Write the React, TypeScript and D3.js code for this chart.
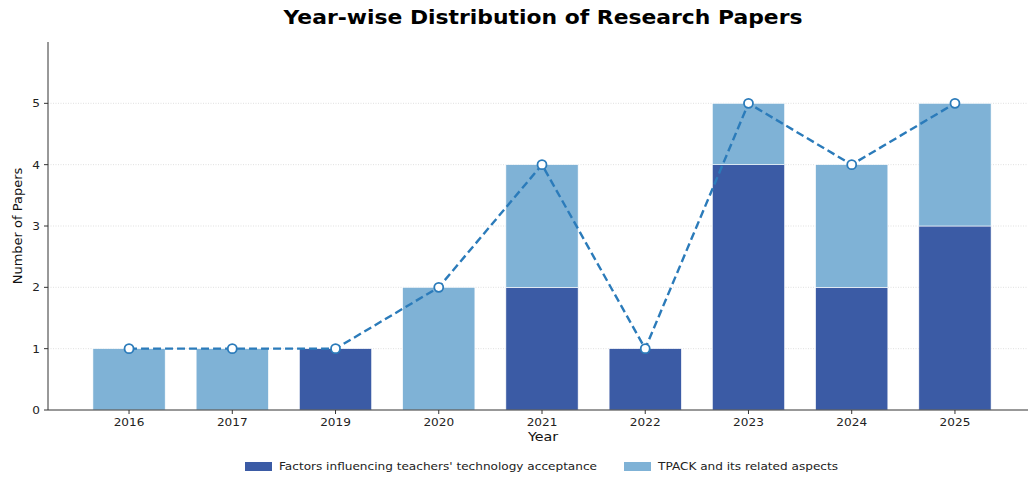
import * as d3 from "d3";

const years = ["2016", "2017", "2019", "2020", "2021", "2022", "2023", "2024", "2025"];
const factors = [0, 0, 1, 0, 2, 1, 4, 2, 3];
const tpack = [1, 1, 0, 2, 2, 0, 1, 2, 2];
const yTicks = [0, 1, 2, 3, 4, 5];
const seriesNames = ["Factors influencing teachers' technology acceptance", "TPACK and its related aspects"];
const seriesColors = ["#3b5ba5", "#7fb2d6"];

const width = 1028;
const height = 477;
const marginLeft = 48;
const marginTop = 42;
const plotBottom = 410;
const font = "DejaVu Sans, sans-serif";
// the reference looks stretched sideways a little
const sx = 1.1;

const Stretch = ({ x, y, children }: { x: number; y: number; children: any }) => (
  <g transform={`translate(${x},${y}) scale(${sx},1)`}>{children}</g>
);

export default function App() {
  const x = d3.scaleLinear().domain([-0.785, 8.785]).range([marginLeft, 1036]);
  const y = d3.scaleLinear().domain([0, 6]).range([plotBottom, marginTop]);
  const step = x(1) - x(0);
  const barW = step * 0.7;
  const totals = years.map((_, i) => factors[i] + tpack[i]);

  const line = d3
    .line<number>()
    .x((_, i) => x(i))
    .y((d) => y(d));

  return (
    <svg width={width} height={height} style={{ position: "absolute", left: 0, top: 0 }} fontFamily={font}>
      <rect width={width} height={height} fill="#fff" />
      <text x={543} y={24} textAnchor="middle" fontSize={19} fontWeight="bold" textLength={519} lengthAdjust="spacingAndGlyphs">
        Year-wise Distribution of Research Papers
      </text>

      {/* grid */}
      {yTicks.slice(1).map((t) => (
        <line key={t} x1={marginLeft} x2={width} y1={y(t)} y2={y(t)} stroke="#ccc" strokeWidth={0.6} strokeDasharray="1,1.5" />
      ))}

      {/* bars */}
      {years.map((yr, i) => (
        <g key={yr}>
          {factors[i] > 0 && (
            <rect x={x(i) - barW / 2} width={barW} y={y(factors[i])} height={y(0) - y(factors[i])} fill={seriesColors[0]} stroke="#fff" strokeWidth={0.6} />
          )}
          {tpack[i] > 0 && (
            <rect x={x(i) - barW / 2} width={barW} y={y(factors[i] + tpack[i])} height={y(factors[i]) - y(factors[i] + tpack[i])} fill={seriesColors[1]} stroke="#fff" strokeWidth={0.6} />
          )}
        </g>
      ))}

      {/* axes */}
      <line x1={marginLeft} x2={marginLeft} y1={marginTop} y2={plotBottom} stroke="#333" strokeWidth={1} />
      <line x1={marginLeft} x2={width} y1={plotBottom} y2={plotBottom} stroke="#333" strokeWidth={1} />
      {yTicks.map((t) => (
        <g key={t}>
          <line x1={marginLeft - 4} x2={marginLeft} y1={y(t)} y2={y(t)} stroke="#333" />
          <Stretch x={marginLeft - 8} y={y(t)}>
            <text dy="0.35em" textAnchor="end" fontSize={11} fill="#222">
              {t}
            </text>
          </Stretch>
        </g>
      ))}
      {years.map((yr, i) => (
        <g key={yr}>
          <line x1={x(i)} x2={x(i)} y1={plotBottom} y2={plotBottom + 4} stroke="#333" />
          <Stretch x={x(i)} y={plotBottom + 16}>
            <text textAnchor="middle" fontSize={11} fill="#222">
              {yr}
            </text>
          </Stretch>
        </g>
      ))}
      <Stretch x={543} y={441}>
        <text textAnchor="middle" fontSize={13} fill="#111">
          Year
        </text>
      </Stretch>
      <text transform={`translate(22,${226}) rotate(-90)`} textAnchor="middle" fontSize={13} fill="#111">
        Number of Papers
      </text>

      {/* total line */}
      <path d={line(totals) ?? ""} fill="none" stroke="#2b7bba" strokeWidth={2.4} strokeDasharray="8,4" />
      {totals.map((t, i) => (
        <circle key={i} cx={x(i)} cy={y(t)} r={4.5} fill="#fff" stroke="#2b7bba" strokeWidth={1.8} />
      ))}

      {/* legend */}
      {[245, 624].map((lx, k) => (
        <g key={k}>
          <rect x={lx} y={462} width={27} height={9} fill={seriesColors[k]} />
          <Stretch x={lx + 34} y={470}>
            <text fontSize={11} fill="#222">
              {seriesNames[k]}
            </text>
          </Stretch>
        </g>
      ))}
    </svg>
  );
}
